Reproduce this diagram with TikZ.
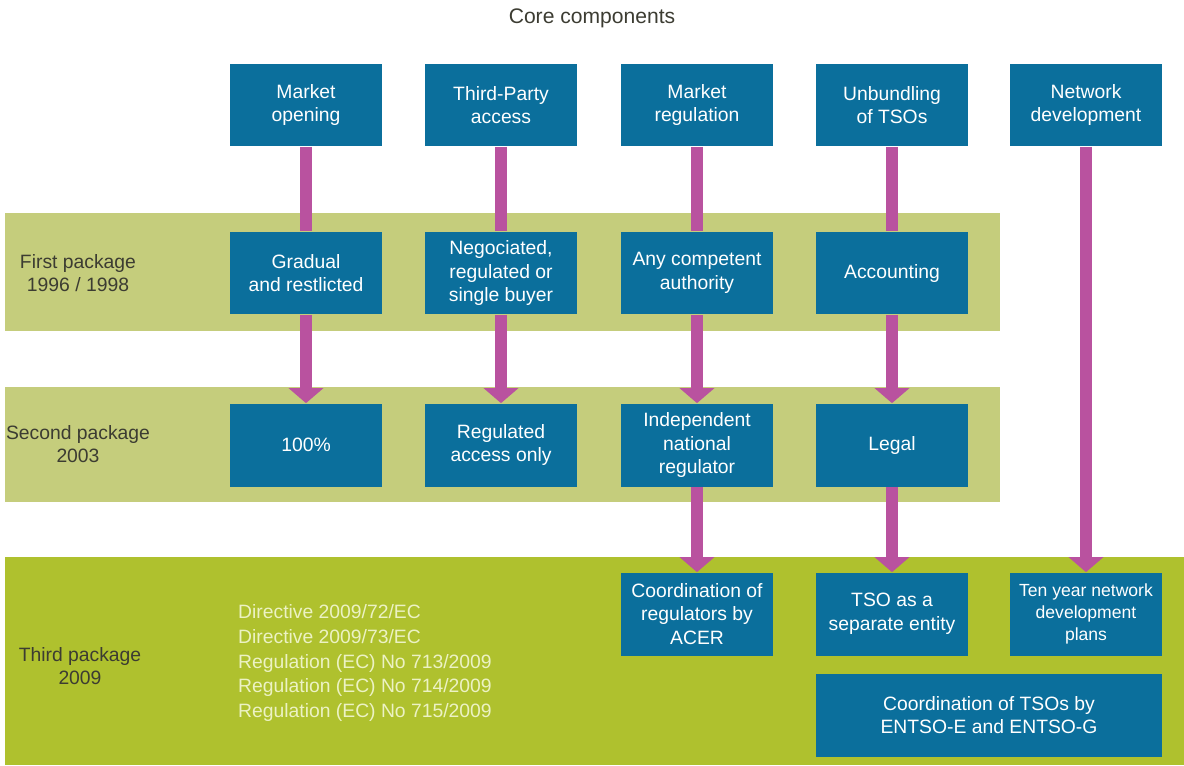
\documentclass[tikz,border=0pt]{standalone}
\usepackage{fontspec}
\setmainfont{Liberation Sans}
\usetikzlibrary{arrows.meta}
\definecolor{boxblue}{RGB}{11,111,156}
\definecolor{linkpink}{RGB}{185,82,159}
\definecolor{bandpale}{RGB}{197,205,124}
\definecolor{bandlime}{RGB}{175,193,46}
\definecolor{labelgray}{RGB}{60,60,50}
\definecolor{lawtext}{RGB}{236,242,196}
\tikzset{
  comp/.style={fill=boxblue, text=white, minimum width=3.04cm, minimum height=1.66cm,
    align=center, inner sep=2pt, font=\fontsize{11}{13.5}\selectfont},
  pkg/.style={text=labelgray, align=center, font=\fontsize{11}{13.5}\selectfont},
  link/.style={draw=linkpink, line width=0.24cm},
  linkhead/.style={link, -{Triangle[width=0.68cm, length=0.3cm]}},
}
\begin{document}
\begin{tikzpicture}[x=0.02cm,y=-0.02cm]
\useasboundingbox (0,0) rectangle (1184,765);
% package bands
\fill[bandpale] (5,213) rectangle (1000,331);
\fill[bandpale] (5,387) rectangle (1000,502);
\fill[bandlime] (5,557) rectangle (1184,765);

\node[text=labelgray, font=\fontsize{12}{14}\selectfont] (title) at (592,18) {Core components};

% core components
\node[comp] (open) at (306,105) {Market\\opening};
\node[comp] (tpa) at (501,105) {Third-Party\\access};
\node[comp] (reg) at (697,105) {Market\\regulation};
\node[comp] (unb) at (892,105) {Unbundling\\of TSOs};
\node[comp] (net) at (1086,105) {Network\\development};

% first package
\node[pkg] (first) at (78,273) {First package\\1996 / 1998};
\node[comp] (grad) at (306,273) {Gradual\\and restlicted};
\node[comp] (nego) at (501,273) {Negociated,\\regulated or\\single buyer};
\node[comp] (auth) at (697,273) {Any competent\\authority};
\node[comp] (acc) at (892,273) {Accounting};

% second package
\node[pkg] (second) at (78,444) {Second package\\2003};
\node[comp] (full) at (306,445) {100\%};
\node[comp] (racc) at (501,445) {Regulated\\access only};
\node[comp] (nreg) at (697,445) {Independent\\national\\regulator};
\node[comp] (legal) at (892,445) {Legal};

% third package
\node[pkg] (third) at (80,666) {Third package\\2009};
\node[text=lawtext, align=left, anchor=west, font=\fontsize{11}{14}\selectfont] (laws) at (232,663)
  {Directive 2009/72/EC\\Directive 2009/73/EC\\Regulation (EC) No 713/2009\\Regulation (EC) No 714/2009\\Regulation (EC) No 715/2009};
\node[comp] (acer) at (697,614) {Coordination of\\regulators by\\ACER};
\node[comp] (sep) at (892,614) {TSO as a\\separate entity};
\node[comp, font=\fontsize{10}{12.5}\selectfont] (plan) at (1086,614) {Ten year network\\development\\plans};
\node[comp, minimum width=6.92cm] (entso) at (989,715) {Coordination of TSOs by\\ENTSO-E and ENTSO-G};

% links
\draw[link] (open) -- (grad);
\draw[link] (tpa) -- (nego);
\draw[link] (reg) -- (auth);
\draw[link] (unb) -- (acc);
\draw[linkhead] (grad) -- (full);
\draw[linkhead] (nego) -- (racc);
\draw[linkhead] (auth) -- (nreg);
\draw[linkhead] (acc) -- (legal);
\draw[linkhead] (nreg) -- (acer);
\draw[linkhead] (legal) -- (sep);
\draw[linkhead] (net) -- (plan);
\end{tikzpicture}
\end{document}
